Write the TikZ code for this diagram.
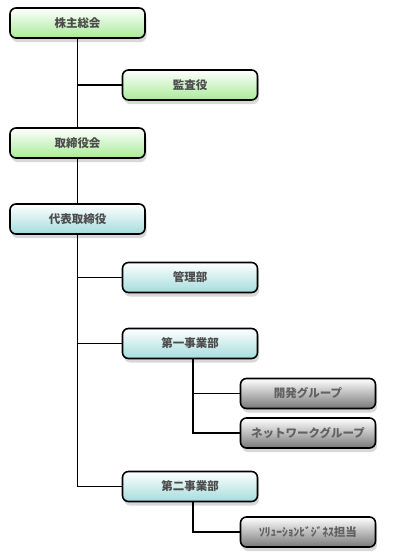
\documentclass[tikz,border=0pt]{standalone}
\usepackage{fontspec}
\newfontfamily\jp{Noto Sans CJK JP}
\usetikzlibrary{shadows}
\definecolor{gbot}{RGB}{168,234,152}
\definecolor{cbot}{RGB}{164,220,220}
\definecolor{ybot}{RGB}{120,120,120}
\begin{document}
\begin{tikzpicture}[x=1pt,y=-1pt,
  box/.style={draw=black, line width=1.6pt, rounded corners=6pt,
    minimum width=135pt, minimum height=30pt, inner sep=0pt,
    font=\jp\bfseries\fontsize{11.5}{12}\selectfont, text=black!70,
    drop shadow={opacity=0.3, shadow xshift=1.5pt, shadow yshift=-4pt}},
  green/.style={box, top color=white, bottom color=gbot},
  cyanbox/.style={box, top color=white, bottom color=cbot},
  graybox/.style={box, top color=white, bottom color=ybot, text=black!62},
  conn/.style={line width=1.3pt, black}]
\useasboundingbox (0,0) rectangle (400,555);
\fill[white] (0,0) rectangle (400,555);
% nodes
\node[green] (kabu) at (77.5,23) {株主総会};
\node[green] (kansa) at (190,85) {監査役};
\node[green] (tori) at (77.5,143) {取締役会};
\node[cyanbox] (daihyo) at (77.5,219) {代表取締役};
\node[cyanbox] (kanri) at (190,277.5) {管理部};
\node[cyanbox] (dai1) at (190,343.5) {第一事業部};
\node[graybox] (kaihatsu) at (308,393.5) {開発グループ};
\node[graybox] (net) at (308,433) {ネットワークグループ};
\node[cyanbox] (dai2) at (190,486.5) {第二事業部};
\node[graybox] (sol) at (308,532) {ｿﾘｭｰｼｮﾝﾋﾞｼﾞﾈｽ担当};
% connectors
\coordinate (j1) at (kabu.south |- kansa.west);
\draw[conn] (kabu.south) -- (tori.north);
\draw[conn] (j1) -- (kansa.west);
\draw[conn] (tori.south) -- (daihyo.north);
\coordinate (j2) at (daihyo.south |- kanri.west);
\coordinate (j3) at (daihyo.south |- dai1.west);
\coordinate (j4) at (daihyo.south |- dai2.west);
\draw[conn] (daihyo.south) -- (j4) -- (dai2.west);
\draw[conn] (j2) -- (kanri.west);
\draw[conn] (j3) -- (dai1.west);
\coordinate (k1) at (193,0);
\coordinate (k2) at (k1 |- kaihatsu.west);
\coordinate (k3) at (k1 |- net.west);
\draw[conn] (k1 |- dai1.south) -- (k3) -- (net.west);
\draw[conn] (k2) -- (kaihatsu.west);
\coordinate (s1) at (k1 |- dai2.south);
\coordinate (s2) at (k1 |- sol.west);
\draw[conn] (s1) -- (s2) -- (sol.west);
\end{tikzpicture}
\end{document}
